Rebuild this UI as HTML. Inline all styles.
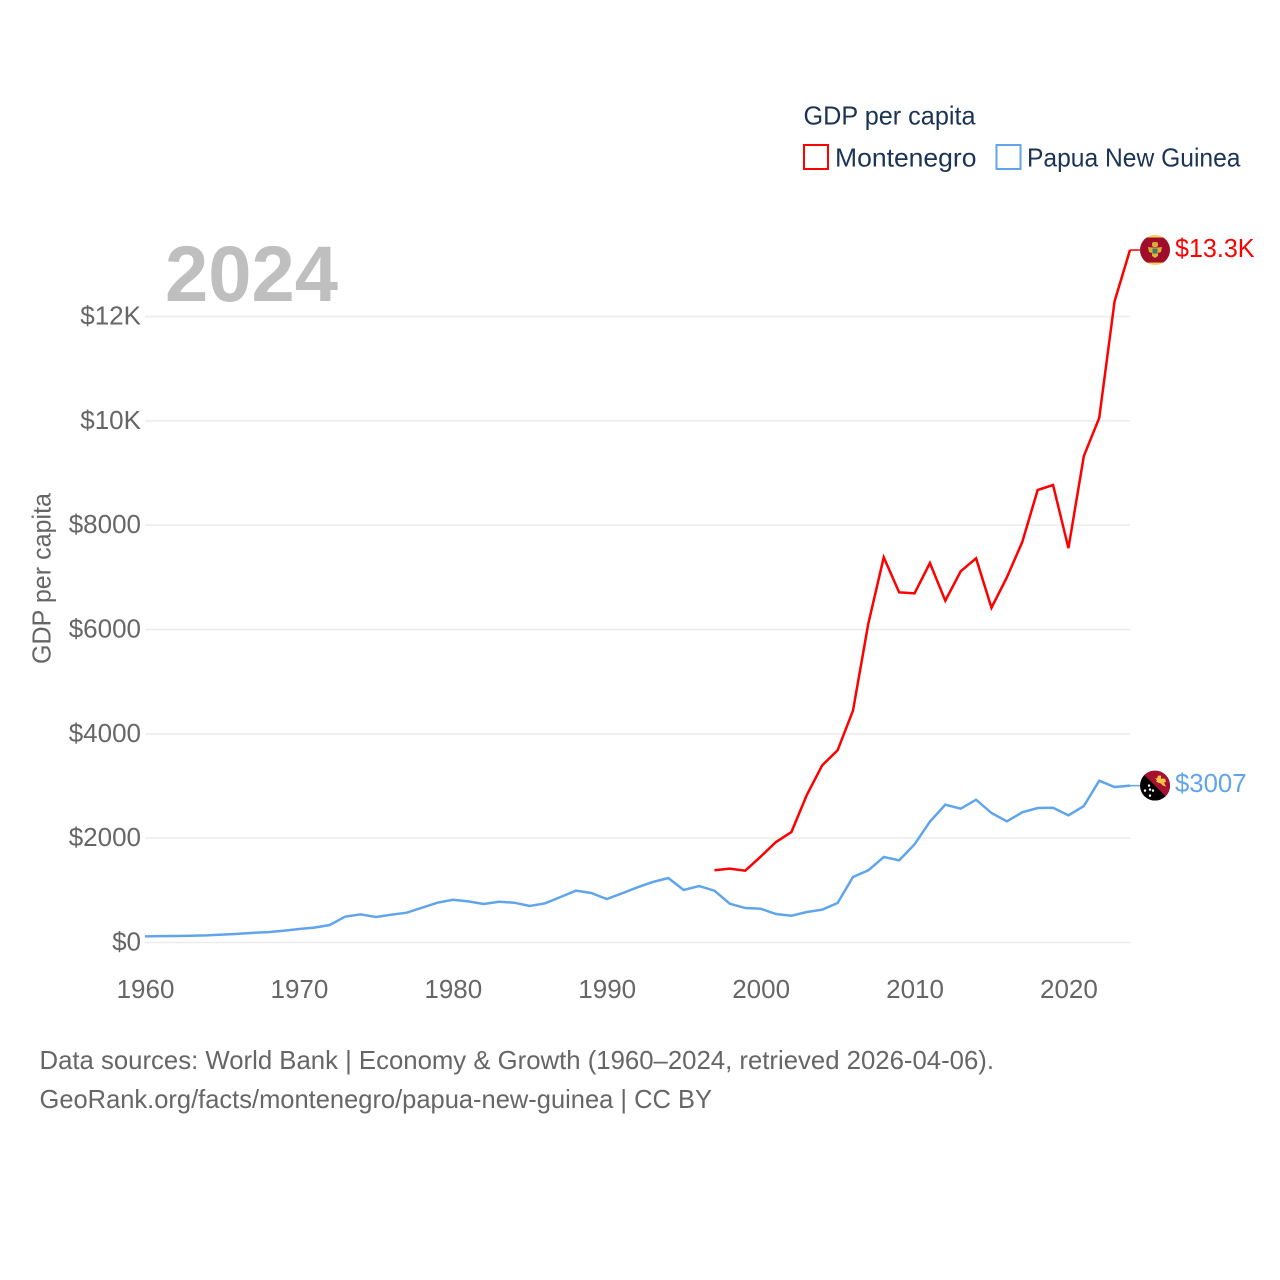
<!DOCTYPE html>
<html lang="en">
<head>
<meta charset="utf-8">
<title>GDP per capita: Montenegro and Papua New Guinea</title>
<style>
html,body{margin:0;padding:0;background:#fff;}
svg{display:block;font-family:"Liberation Sans",sans-serif;}
</style>
</head>
<body>
<svg id="chart" xmlns="http://www.w3.org/2000/svg" width="1280" height="1280" viewBox="0 0 1280 1280">
  <rect x="0" y="0" width="1280" height="1280" fill="#ffffff"/>
  <g id="grid"></g>
  <g id="yticks"></g>
  <g id="xticks"></g>
  <text transform="translate(50.500,664) rotate(-90)" x="0" y="0" font-size="26" fill="#666666" textLength="171" lengthAdjust="spacingAndGlyphs">GDP per capita</text>
  <text x="165" y="301" font-size="79" font-weight="700" fill="#bfbfbf" textLength="173" lengthAdjust="spacingAndGlyphs">2024</text>
  <g id="series"></g>
  <g id="ends"></g>

  <g>
    <text x="803.500" y="124.500" font-size="26" fill="#1b3354" textLength="172" lengthAdjust="spacingAndGlyphs">GDP per capita</text>
    <g>
      <rect x="804" y="145" width="24" height="24" fill="#ffffff" stroke="#ff0000" stroke-width="2"/>
      <text x="835" y="166.500" font-size="26" fill="#1b3354" textLength="141.500" lengthAdjust="spacingAndGlyphs">Montenegro</text>
    </g>
    <g>
      <rect x="996.500" y="145" width="24" height="24" fill="#ffffff" stroke="#60a5ec" stroke-width="2"/>
      <text x="1027" y="166.500" font-size="26" fill="#1b3354" textLength="213.500" lengthAdjust="spacingAndGlyphs">Papua New Guinea</text>
    </g>
  </g>

  <g>
    <text x="39.500" y="1069" font-size="26" fill="#666666" textLength="954.500" lengthAdjust="spacingAndGlyphs">Data sources: World Bank | Economy &amp; Growth (1960–2024, retrieved 2026-04-06).</text>
    <text x="39.500" y="1108" font-size="26" fill="#666666" textLength="672.500" lengthAdjust="spacingAndGlyphs">GeoRank.org/facts/montenegro/papua-new-guinea | CC BY</text>
  </g>

  <defs>
    <clipPath id="flag-clip"><circle cx="0" cy="0" r="15"/></clipPath>
  </defs>
</svg>
<script>
// Chart data
const pngYears = [1960,1961,1962,1963,1964,1965,1966,1967,1968,1969,1970,1971,1972,1973,1974,1975,1976,1977,1978,1979,1980,1981,1982,1983,1984,1985,1986,1987,1988,1989,1990,1991,1992,1993,1994,1995,1996,1997,1998,1999,2000,2001,2002,2003,2004,2005,2006,2007,2008,2009,2010,2011,2012,2013,2014,2015,2016,2017,2018,2019,2020,2021,2022,2023,2024];
const pngValues = [118,122,125,130,136,150,165,185,200,225,259,285,335,495,540,489,533,571,667,763,820,789,738,782,763,700,751,872,993,949,834,943,1058,1160,1236,1006,1083,993,744,661,648,546,514,585,629,757,1255,1384,1639,1575,1882,2316,2642,2565,2737,2482,2323,2495,2578,2584,2438,2616,3101,2980,3007];
const mneYears = [1997,1998,1999,2000,2001,2002,2003,2004,2005,2006,2007,2008,2009,2010,2011,2012,2013,2014,2015,2016,2017,2018,2019,2020,2021,2022,2023,2024];
const mneValues = [1384,1415,1376,1645,1926,2118,2827,3396,3684,4443,6118,7383,6712,6693,7274,6552,7115,7364,6417,7000,7677,8674,8770,7560,9325,10055,12295,13274];
const yTickValues = [0,2000,4000,6000,8000,10000,12000];
const yTickLabels = ["$0","$2000","$4000","$6000","$8000","$10K","$12K"];
const xTickValues = [1960,1970,1980,1990,2000,2010,2020];
const xTickLabels = ["1960","1970","1980","1990","2000","2010","2020"];
const endLabels = ["$13.3K","$3007"];

// Axis functions
function xScale(year){ return 145 + (year - 1960) * (985 / 64); }
function yScale(value){ return 942.5 - value * (626 / 12000); }

const NS = "http://www.w3.org/2000/svg";
function make(tag, parent, attrs){
  const el = document.createElementNS(NS, tag);
  for (const k in attrs) el.setAttribute(k, attrs[k]);
  parent.appendChild(el);
  return el;
}

const gridG = document.getElementById("grid");
const yG = document.getElementById("yticks");
const xG = document.getElementById("xticks");
const seriesG = document.getElementById("series");
const endsG = document.getElementById("ends");

yTickValues.forEach(function(v, i){
  const line = make("line", gridG, {x1:xScale(1960), x2:xScale(2024), y1:yScale(v), y2:yScale(v), stroke:"#ebebeb", "stroke-width":1.500});
  
  
  const t = make("text", yG, {x:141, y:yScale(v)+8, "text-anchor":"end", "font-size":26, fill:"#666666"});
  t.textContent = yTickLabels[i];
  
  
});

xTickValues.forEach(function(v, i){
  const t = make("text", xG, {x:xScale(v)+0.500, y:998, "text-anchor":"middle", "font-size":26, fill:"#666666"});
  t.textContent = xTickLabels[i];
  
  
});

function pointsOf(years, values){
  return years.map(function(y, i){ return xScale(y).toFixed(2) + "," + yScale(values[i]).toFixed(2); }).join(" ");
}

const pngLine = make("polyline", seriesG, {points:pointsOf(pngYears, pngValues), fill:"none", stroke:"#60a5ec", "stroke-width":2.500, "stroke-linejoin":"miter"});



const mneLine = make("polyline", seriesG, {points:pointsOf(mneYears, mneValues), fill:"none", stroke:"#ff0000", "stroke-width":2.500, "stroke-linejoin":"miter"});



// End-of-series markers follow the final data value
const mneEndX = xScale(mneYears[mneYears.length - 1]);
const mneEndY = yScale(mneValues[mneValues.length - 1]);
const pngEndX = xScale(pngYears[pngYears.length - 1]);
const pngEndY = yScale(pngValues[pngValues.length - 1]);

const mneLead = make("line", endsG, {x1:mneEndX, y1:mneEndY, x2:mneEndX+10, y2:mneEndY, stroke:"#ff0000", "stroke-width":1.500});


const pngLead = make("line", endsG, {x1:pngEndX, y1:pngEndY, x2:pngEndX+10, y2:pngEndY, stroke:"#60a5ec", "stroke-width":1.500});



// Montenegro flag
const mneFlag = make("g", endsG, {transform:"translate(" + (mneEndX+25) + "," + mneEndY + ")", "clip-path":"url(#flag-clip)"});


make("rect", mneFlag, {x:-15, y:-15, width:30, height:30, fill:"#f3cf5c"});
make("rect", mneFlag, {x:-15, y:-12.500, width:30, height:25, fill:"#a00d2a"});
make("path", mneFlag, {d:"M-7,-3 L-3,-2.500 L3,-2.500 L7,-3 L6,2 L3,3 L3,6 L0,8 L-3,6 L-3,3 L-6,2 Z", fill:"#dcae3c"});
make("rect", mneFlag, {x:-3, y:-8, width:6, height:5, rx:2, fill:"#d9a93a"});
make("rect", mneFlag, {x:-2.500, y:-1.500, width:5, height:5, fill:"#3f7a6a"});

// Papua New Guinea flag
const pngFlag = make("g", endsG, {transform:"translate(" + (pngEndX+25) + "," + pngEndY + ")", "clip-path":"url(#flag-clip)"});


make("rect", pngFlag, {x:-15, y:-15, width:30, height:30, fill:"#000000"});
make("path", pngFlag, {d:"M-15,-15 L15,-15 L15,15 Z", fill:"#a5112f"});
make("path", pngFlag, {d:"M0,-8 L2,-7 L3,-10 L6,-10 L6,-7 L10,-7 L11,-4 L9,-3 L11,1 L8,0 L6,-2 L3,-3 L1,-4 L2,-5 Z", fill:"#f5c545"});
const starXs = [-6,-10,-2,-5,-5];
const starYs = [0,5,5,10,4];
starXs.forEach(function(sx, i){
  const s = make("circle", pngFlag, {cx:sx, cy:starYs[i], r:1.200, fill:"#ffffff"});
  
  
});

const mneLabel = make("text", endsG, {x:mneEndX+45, y:mneEndY+7, "font-size":26, fill:"#ff0000", textLength:79.500, lengthAdjust:"spacingAndGlyphs"});
mneLabel.textContent = endLabels[0];



const pngLabel = make("text", endsG, {x:pngEndX+45, y:pngEndY+6.500, "font-size":26, fill:"#60a5ec", textLength:71.500, lengthAdjust:"spacingAndGlyphs"});
pngLabel.textContent = endLabels[1];


</script>
</body>
</html>
